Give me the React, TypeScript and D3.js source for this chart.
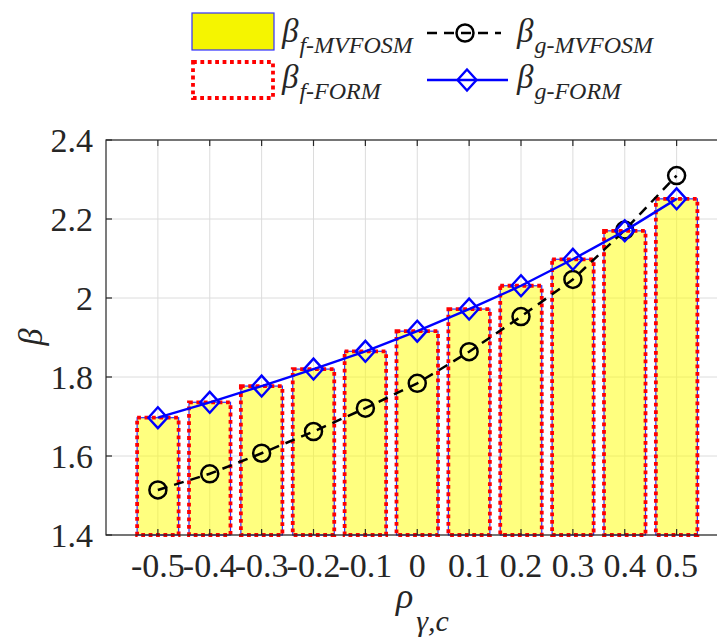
import React from 'react';
import * as d3 from 'd3';

// rho_{gamma,c} categories
const rho = [-0.5, -0.4, -0.3, -0.2, -0.1, 0, 0.1, 0.2, 0.3, 0.4, 0.5];
const xTickLabels = ['-0.5', '-0.4', '-0.3', '-0.2', '-0.1', '0', '0.1', '0.2', '0.3', '0.4', '0.5'];
const yTicks = [1.4, 1.6, 1.8, 2.0, 2.2, 2.4];
const yTickLabels = ['1.4', '1.6', '1.8', '2', '2.2', '2.4'];

// reliability indices
const betaFMVFOSM = [1.697, 1.736, 1.777, 1.820, 1.865, 1.916, 1.972, 2.031, 2.098, 2.170, 2.251];
const betaFFORM = [1.697, 1.736, 1.777, 1.820, 1.865, 1.916, 1.972, 2.031, 2.098, 2.170, 2.251];
const betaGMVFOSM = [1.514, 1.555, 1.607, 1.662, 1.721, 1.784, 1.864, 1.953, 2.047, 2.172, 2.310];
const betaGFORM = [1.697, 1.736, 1.777, 1.820, 1.865, 1.916, 1.972, 2.031, 2.098, 2.170, 2.251];

const W = 717;
const H = 639;
const FONT = '"Liberation Serif", "Times New Roman", serif';
const AXIS = '#262626';

export default function App() {
  const x = d3.scaleLinear().domain([-0.6, 0.6]).range([106, 728.5]);
  const y = d3.scaleLinear().domain([1.4, 2.4]).range([535, 140]);
  const barW = x(0.04) - x(-0.04);
  const [x0, x1] = x.range();
  const [yb, yt] = y.range();

  const lineGen = d3.line<number>()
    .x((d, i) => x(rho[i]))
    .y(d => y(d));

  const diamond = (cx: number, cy: number, r = 9.5) =>
    `M${cx},${cy - r * 1.1}L${cx + r},${cy}L${cx},${cy + r * 1.1}L${cx - r},${cy}Z`;

  return (
    <svg width={W} height={H} style={{ position: 'absolute', left: 0, top: 0, background: '#fff' }}
      fontFamily={FONT}>
      {/* grid */}
      {rho.map(r => (
        <line key={'gx' + r} x1={x(r)} x2={x(r)} y1={yt} y2={yb} stroke="#dcdcdc" strokeWidth={1} />
      ))}
      {yTicks.map(t => (
        <line key={'gy' + t} x1={x0} x2={x1} y1={y(t)} y2={y(t)} stroke="#dcdcdc" strokeWidth={1} />
      ))}

      {/* f-MVFOSM bars */}
      {betaFMVFOSM.map((v, i) => (
        <rect key={'b1' + i} x={x(rho[i]) - barW / 2} y={y(v)} width={barW} height={yb - y(v)}
          fill="#ffff00" fillOpacity={0.5} stroke="#3030ff" strokeWidth={1.2} />
      ))}
      {/* f-FORM bars */}
      {betaFFORM.map((v, i) => (
        <rect key={'b2' + i} x={x(rho[i]) - barW / 2} y={y(v)} width={barW} height={yb - y(v)}
          fill="none" stroke="#ff0000" strokeWidth={3.8} strokeDasharray="3.8,3.6" />
      ))}

      {/* g-MVFOSM */}
      <path d={lineGen(betaGMVFOSM) || ''} fill="none" stroke="#000" strokeWidth={2.5} strokeDasharray="10,7" />
      {betaGMVFOSM.map((v, i) => (
        <circle key={'c' + i} cx={x(rho[i])} cy={y(v)} r={8.5} fill="none" stroke="#000" strokeWidth={2.5} />
      ))}

      {/* g-FORM */}
      <path d={lineGen(betaGFORM) || ''} fill="none" stroke="#0000ff" strokeWidth={2.4} />
      {betaGFORM.map((v, i) => (
        <path key={'d' + i} d={diamond(x(rho[i]), y(v))} fill="none" stroke="#0000ff" strokeWidth={2.4} />
      ))}

      {/* axes box */}
      <rect x={x0} y={yt} width={x1 - x0} height={yb - yt} fill="none" stroke={AXIS} strokeWidth={1.2} />
      {rho.map(r => (
        <g key={'tx' + r}>
          <line x1={x(r)} x2={x(r)} y1={yt} y2={yt + 6} stroke={AXIS} strokeWidth={1.2} />
          <line x1={x(r)} x2={x(r)} y1={yb} y2={yb - 6} stroke={AXIS} strokeWidth={1.2} />
        </g>
      ))}
      {yTicks.map(t => (
        <line key={'ty' + t} x1={x0} x2={x0 + 6} y1={y(t)} y2={y(t)} stroke={AXIS} strokeWidth={1.2} />
      ))}

      {/* tick labels */}
      {xTickLabels.map((l, i) => (
        <text key={'lx' + i} x={x(rho[i])} y={577} textAnchor="middle" fontSize={34} fill={AXIS}>{l}</text>
      ))}
      {yTickLabels.map((l, i) => (
        <text key={'ly' + i} x={93} y={y(yTicks[i]) + 12} textAnchor="end" fontSize={34} fill={AXIS}>{l}</text>
      ))}

      {/* axis labels */}
      <text transform="translate(42,337) rotate(-90)" textAnchor="middle" fontSize={34} fontStyle="italic" fill={AXIS}>β</text>
      <text x={396} y={608} fontSize={36} fontStyle="italic" fill={AXIS}>
        ρ<tspan dx={3} dy={23} fontSize={30}>γ,c</tspan>
      </text>

      {/* legend */}
      <rect x={192} y={13} width={82} height={37} fill="#f5f500" stroke="#3030ff" strokeWidth={1.2} />
      <rect x={193} y={62} width={80} height={36} fill="none" stroke="#ff0000" strokeWidth={3.8} strokeDasharray="3.8,3.6" />
      <text x={282} y={42} fontSize={33} fontStyle="italic" fill={AXIS}>
        β<tspan dx={1} dy={11} fontSize={24}>f-MVFOSM</tspan>
      </text>
      <text x={282} y={88} fontSize={33} fontStyle="italic" fill={AXIS}>
        β<tspan dx={1} dy={11} fontSize={24}>f-FORM</tspan>
      </text>
      <line x1={427} x2={501} y1={33} y2={33} stroke="#000" strokeWidth={2.5} strokeDasharray="10,7" />
      <circle cx={465} cy={33} r={8.5} fill="none" stroke="#000" strokeWidth={2.5} />
      <line x1={427} x2={508} y1={80} y2={80} stroke="#0000ff" strokeWidth={2.4} />
      <path d={diamond(467, 80)} fill="none" stroke="#0000ff" strokeWidth={2.4} />
      <text x={517} y={42} fontSize={33} fontStyle="italic" fill={AXIS}>
        β<tspan dx={1} dy={11} fontSize={24}>g-MVFOSM</tspan>
      </text>
      <text x={517} y={88} fontSize={33} fontStyle="italic" fill={AXIS}>
        β<tspan dx={1} dy={11} fontSize={24}>g-FORM</tspan>
      </text>
    </svg>
  );
}
